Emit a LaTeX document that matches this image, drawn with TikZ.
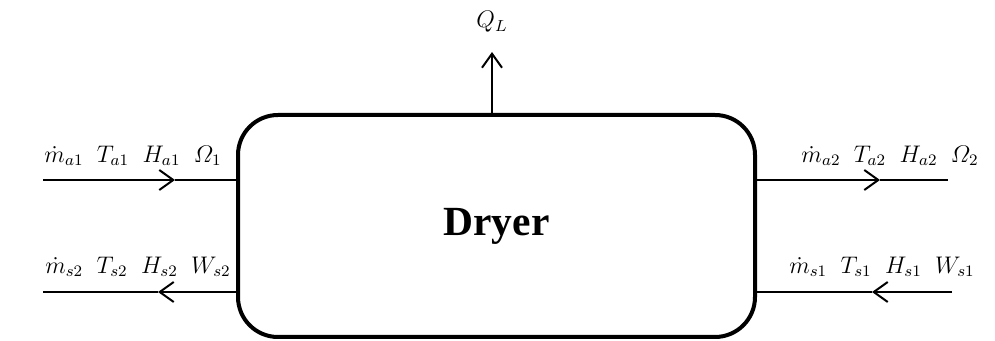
\documentclass[tikz,border=0pt]{standalone}
\usepackage{amsmath}
\usepackage{fontspec}
\setmainfont{Liberation Serif}
\usetikzlibrary{arrows.meta,positioning}

\begin{document}
\begin{tikzpicture}[x=0.5pt, y=-0.5pt,
  flow/.style={line width=1pt, -{Straight Barb[length=7pt,width=10pt,line width=1pt]}},
  pipe/.style={line width=1pt},
  lbl/.style={font=\large, inner sep=0pt}]
\useasboundingbox (0,0) rectangle (995,341);
\node (dryer) [draw, line width=2pt, rounded corners=20pt, minimum width=258.5pt, minimum height=111pt] at (496.5,226) {\huge\bfseries Dryer};

% air in / air out
\coordinate (ain) at (43,180);
\coordinate (ainmid) at (175,180);
\draw [flow] (ain) -- (ainmid);
\draw [pipe] (ainmid) -- (ainmid -| dryer.west);
\node (ainlbl) [lbl] at (133,156) {$\dot{m}_{a1}\;\;T_{a1}\;\;H_{a1}\;\;\varOmega_1$};

\coordinate (aout) at (948,180);
\coordinate (aoutmid) at (880,180);
\draw [flow] (aoutmid -| dryer.east) -- (aoutmid);
\draw [pipe] (aoutmid) -- (aout);
\node (aoutlbl) [lbl] at (890,156) {$\dot{m}_{a2}\;\;T_{a2}\;\;H_{a2}\;\;\varOmega_2$};

% solid in / solid out
\coordinate (sin) at (952,292);
\coordinate (sinmid) at (872,292);
\draw [flow] (sin) -- (sinmid);
\draw [pipe] (sinmid) -- (sinmid -| dryer.east);
\node (sinlbl) [lbl] at (882,267) {$\dot{m}_{s1}\;\;T_{s1}\;\;H_{s1}\;\;W_{s1}$};

\coordinate (sout) at (43,292);
\coordinate (soutmid) at (158,292);
\draw [flow] (soutmid -| dryer.west) -- (soutmid);
\draw [pipe] (soutmid) -- (sout);
\node (soutlbl) [lbl] at (138,267) {$\dot{m}_{s2}\;\;T_{s2}\;\;H_{s2}\;\;W_{s2}$};

% heat loss
\coordinate (qtop) at (492,52);
\draw [flow] (qtop |- dryer.north) -- (qtop);
\node (ql) [lbl] at (492,22) {$Q_L$};
\end{tikzpicture}
\end{document}
